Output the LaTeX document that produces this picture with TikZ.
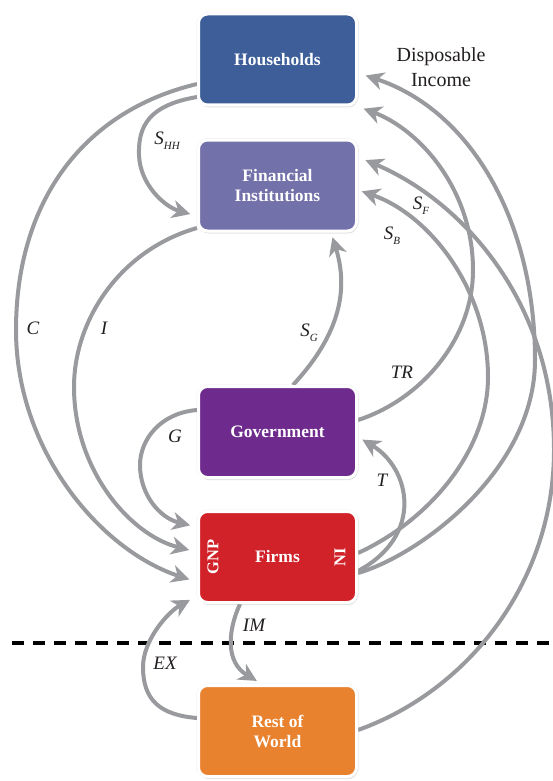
\documentclass[tikz,border=0pt]{standalone}
\usepackage{fontspec}
\setmainfont{Liberation Serif}
\usetikzlibrary{arrows.meta,shadows,backgrounds}
\definecolor{hhc}{HTML}{3D5E98}
\definecolor{fic}{HTML}{7371A9}
\definecolor{govc}{HTML}{6E2B8D}
\definecolor{firmc}{HTML}{D1222A}
\definecolor{rowc}{HTML}{E9822F}
\definecolor{flowgray}{HTML}{999A9E}
\definecolor{txt}{HTML}{231F20}
\newcommand\lsub[1]{\raisebox{-5pt}{\fontsize{11}{11}\selectfont #1}}
\tikzset{
  box/.style={rectangle, rounded corners=9pt, draw=white, line width=3pt,
    minimum width=158pt, minimum height=91pt, text=white, align=center,
    font=\fontsize{17.5}{20}\selectfont\bfseries,
    drop shadow={shadow xshift=1pt, shadow yshift=-2.5pt, opacity=0.22},
    drop shadow={shadow xshift=2.5pt, shadow yshift=0pt, opacity=0.15},
    drop shadow={shadow xshift=-2pt, shadow yshift=0pt, opacity=0.15},
    drop shadow={shadow xshift=0pt, shadow yshift=2pt, opacity=0.12}},
  sidelbl/.style={text=white, font=\fontsize{16.5}{18}\selectfont\bfseries, rotate=90, inner sep=0pt},
  flow/.style={draw=flowgray, line width=4pt, -{Stealth[length=18pt,width=18pt,inset=5.5pt]}},
  lbl/.style={text=txt, font=\fontsize{19}{22}\selectfont\itshape, inner sep=0pt},
  dilbl/.style={text=txt, font=\fontsize{20}{25}\selectfont, align=center, inner sep=0pt},
  divider/.style={draw=black, line width=4pt, dash pattern=on 12pt off 9pt}
}
\begin{document}
\begin{tikzpicture}[x=1pt,y=-1pt]
\useasboundingbox (0,0) rectangle (553,781);

\node[box, fill=hhc] (hh) at (277.5,59.5) {Households};
\node[box, fill=fic] (fi) at (277.5,185.5) {Financial\\Institutions};
\node[box, fill=govc] (gov) at (277.5,432) {Government};
\node[box, fill=firmc] (firms) at (277.5,557) {Firms};
\node[box, fill=rowc] (row) at (277.5,731) {Rest of\\World};
\node[sidelbl] (gnp) at (213,557) {GNP};
\node[sidelbl] (ni) at (340,557) {NI};

\begin{scope}[on background layer]
  \fill[white] (0,0) rectangle (553,781);
  \coordinate (dl) at (12,643);
  \coordinate (dr) at (553,643);
  \draw[divider] (dl) -- (dr);
  % C
  \draw[flow, shorten >=8pt] (hh.west |- 0,84) .. controls (80,112) and (16,205) .. (16,330)
        .. controls (16,450) and (100,550) .. (firms.west |- 0,582);
  % I
  \draw[flow, shorten >=8pt] (fi.west |- 0,228) .. controls (120,250) and (74,320) .. (74,387)
        .. controls (74,470) and (130,535) .. (firms.west |- 0,552);
  % G
  \draw[flow, shorten >=7pt] (gov.west |- 0,410) .. controls (160,413) and (140,440) .. (140,465)
        .. controls (140,495) and (160,518) .. (firms.west |- 0,527);
  % S_HH
  \draw[flow, shorten >=7pt] (hh.west |- 0,97) .. controls (150,105) and (138,125) .. (139,155)
        .. controls (140,185) and (165,207) .. (fi.west |- 0,216);
  % EX
  \draw[flow, shorten >=8pt] (row.west |- 0,718) .. controls (160,715) and (143,700) .. (143,667)
        .. controls (143,640) and (168,612) .. (firms.west |- 0,596);
  % IM
  \draw[flow, shorten >=6pt] (firms.south -| 240,0) .. controls (228,630) and (225,662) .. (row.north -| 262,0);
  % S_G
  \draw[flow, shorten >=5pt] (gov.north -| 293,0) .. controls (330,345) and (352,300) .. (fi.south -| 331,0);
  % TR
  \draw[flow, shorten >=6pt] (gov.east |- 0,420) .. controls (420,400) and (473,340) .. (473,270)
        .. controls (473,190) and (420,130) .. (hh.south east);
  % S_B
  \draw[flow, shorten >=4pt] (firms.east |- 0,553) .. controls (430,520) and (488,450) .. (488,377)
        .. controls (488,290) and (430,215) .. (fi.east |- 0,190);
  % Disposable income
  \draw[flow, shorten >=8pt] (firms.east |- 0,573) .. controls (420,555) and (535,470) .. (535,360)
        .. controls (535,220) and (470,110) .. (hh.east |- 0,73);
  % S_F
  \draw[flow, shorten >=8pt] (row.east |- 0,730) .. controls (470,690) and (554,580) .. (554,450)
        .. controls (554,300) and (460,200) .. (fi.east |- 0,157);
  % T
  \draw[flow, shorten >=5pt] (firms.east |- 0,571) .. controls (425,535) and (410,468) .. (gov.east |- 0,437);
\end{scope}

\node[dilbl] (ldi) at (441,67) {Disposable\\Income};
\node[lbl] (lshh) at (167,141) {S\lsub{HH}};
\node[lbl] (lsf) at (421,206) {S\lsub{F}};
\node[lbl] (lsb) at (392,236) {S\lsub{B}};
\node[lbl] (lc) at (33,328) {C};
\node[lbl] (li) at (104,328) {I};
\node[lbl] (lsg) at (309,333) {S\lsub{G}};
\node[lbl] (ltr) at (402,372) {TR};
\node[lbl] (lg) at (175,436) {G};
\node[lbl] (lt) at (382,480) {T};
\node[lbl] (lim) at (254,625) {IM};
\node[lbl] (lex) at (165,663) {EX};
\end{tikzpicture}
\end{document}
